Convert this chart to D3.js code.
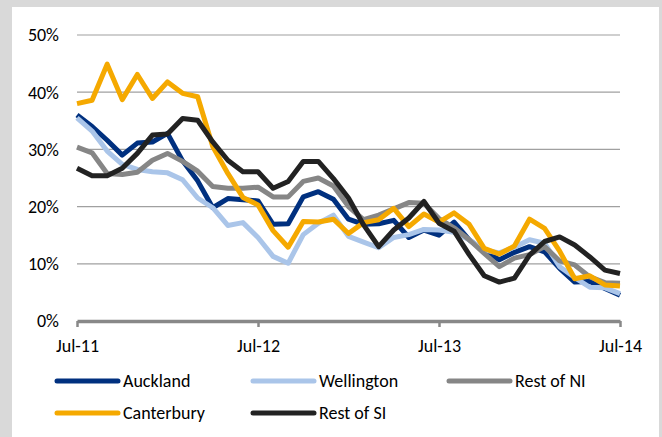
<!DOCTYPE html>
<html><head><meta charset="utf-8">
<script src="https://cdn.jsdelivr.net/npm/d3@7/dist/d3.min.js"></script>
<style>
html,body{margin:0;padding:0;background:#d9d9d9;}
svg{display:block;}
text{font-family:"Carlito","Liberation Sans Narrow","Arial Narrow",sans-serif;fill:#000;}
</style></head>
<body>
<svg id="c" width="662" height="437"></svg>
<script>
const months = d3.range(37); // Jul-11 .. Jul-14, monthly
const tickLabels = ["Jul-11","Jul-12","Jul-13","Jul-14"];
const yTicks = [0,10,20,30,40,50];

const seriesNames = ["Auckland","Wellington","Rest of NI","Canterbury","Rest of SI"];
const seriesColors = ["#00307f","#aac5e9","#868686","#f5a900","#222222"];

const auckland = [36.0,34.0,31.6,29.0,31.1,31.3,32.8,28.0,24.5,19.8,21.4,21.2,21.0,16.9,17.0,21.7,22.6,21.3,17.8,16.9,17.0,17.6,14.6,15.9,15.0,17.3,14.2,12.2,10.7,12.0,13.0,12.1,9.2,6.8,6.9,5.7,4.5];
const wellington = [35.5,33.2,29.7,27.4,26.5,26.1,25.9,24.7,21.5,19.8,16.7,17.2,14.6,11.3,10.1,15.1,17.1,18.5,14.8,13.8,12.8,14.6,15.1,16.0,15.9,15.5,14.2,12.4,11.9,12.9,14.2,13.6,9.5,7.6,5.9,5.8,4.8];
const restNI = [30.4,29.4,25.8,25.6,26.0,28.1,29.3,27.9,26.2,23.5,23.2,23.2,23.4,21.7,21.7,24.4,25.0,23.6,20.0,17.7,18.5,19.6,20.7,20.6,17.9,16.3,14.2,11.8,9.5,11.0,11.6,13.0,10.5,9.8,7.7,6.7,6.6];
const canterbury = [38.0,38.6,44.9,38.7,43.1,38.9,41.8,39.8,39.2,30.5,25.8,21.6,20.3,15.8,12.9,17.4,17.3,17.8,15.3,17.2,17.7,19.7,16.5,18.7,17.3,18.9,16.9,12.7,11.7,13.1,17.8,16.2,12.2,7.4,7.9,6.3,6.1];
const restSI = [26.7,25.4,25.4,26.7,29.3,32.5,32.7,35.4,35.1,31.3,28.1,26.1,26.1,23.2,24.4,27.9,27.9,24.9,21.5,16.8,13.0,15.9,18.0,20.9,17.1,15.7,11.6,7.9,6.8,7.5,11.5,13.9,14.7,13.3,11.2,8.9,8.3];
const seriesValues = [auckland, wellington, restNI, canterbury, restSI];

const FONT = '"Carlito","Liberation Sans Narrow","Arial Narrow",sans-serif';
const svg = d3.select("#c");
svg.append("rect").attr("x",12).attr("y",7).attr("width",647).attr("height",430).attr("fill","#fff");

const x = d3.scaleLinear().domain([0,36]).range([77,620]);
const y = d3.scaleLinear().domain([0,50]).range([321,35]);

// gridlines
svg.append("g").selectAll("line").data(yTicks.filter(d=>d>0)).join("line")
  .attr("x1",77).attr("x2",620).attr("y1",d=>y(d)).attr("y2",d=>y(d))
  .attr("stroke","#a0a0a0").attr("stroke-width",1.2);

// y labels
svg.append("g").selectAll("text").data(yTicks).join("text")
  .attr("x",59).attr("y",d=>y(d)).attr("dy","0.35em").attr("text-anchor","end")
  .attr("font-size",18).text(d=>d+"%");

// x axis
const xAxis = d3.axisBottom(x).tickValues([0,12,24,36]).tickFormat((d,i)=>tickLabels[i]).tickSize(6).tickSizeOuter(0);
const gx = svg.append("g").attr("transform","translate(0,321)").call(xAxis);
gx.select(".domain").attr("stroke","#888").attr("stroke-width",3.5);
gx.selectAll(".tick line").attr("stroke","#888").attr("stroke-width",2.5);
gx.selectAll(".tick text").attr("font-size",18).attr("y",25).attr("dy","0.35em")
  .attr("font-family",FONT).attr("fill","#000");

// lines
const line = d3.line().x((d,i)=>x(months[i])).y(d=>y(d));
svg.append("g").selectAll("path").data(seriesValues).join("path")
  .attr("d",d=>line(d)).attr("fill","none")
  .attr("stroke",(d,i)=>seriesColors[i]).attr("stroke-width",5)
  .attr("stroke-linejoin","round");

// legend
const legPos = [[57,381],[253,381],[449,381],[57,413],[253,413]];
const lg = svg.append("g");
seriesNames.forEach((n,i)=>{
  const [lx,ly] = legPos[i];
  lg.append("line").attr("x1",lx).attr("x2",lx+61).attr("y1",ly).attr("y2",ly)
    .attr("stroke",seriesColors[i]).attr("stroke-width",5).attr("stroke-linecap","round");
  lg.append("text").attr("x",lx+66).attr("y",ly).attr("dy","0.35em").attr("font-size",18).text(n);
});
</script>
</body></html>
